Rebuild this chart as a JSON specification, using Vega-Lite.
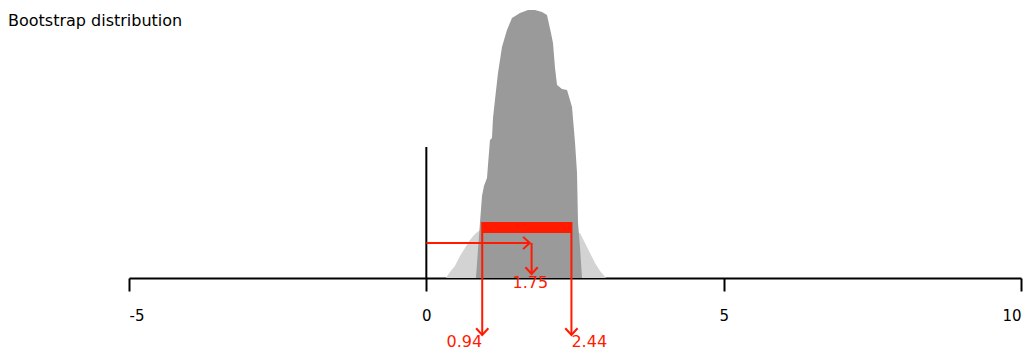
{
  "$schema": "https://vega.github.io/schema/vega-lite/v6.json",
  "width": 892,
  "height": 270,
  "autosize": {"type": "none"},
  "padding": {"left": 129, "top": 8, "right": 14, "bottom": 76},
  "title": {"text": "Bootstrap distribution", "anchor": "start", "dx": -120, "dy": 21, "offset": 0, "fontSize": 16, "font": "DejaVu Sans", "fontWeight": "normal", "color": "#000000"},
  "config": {"view": {"stroke": null}, "font": "DejaVu Sans"},
  "datasets": {
    "light": [
      {"x": 0.330, "h": 0}, {"x": 0.397, "h": 6}, {"x": 0.481, "h": 12}, {"x": 0.565, "h": 22},
      {"x": 0.650, "h": 30}, {"x": 0.734, "h": 38}, {"x": 0.818, "h": 44}, {"x": 0.902, "h": 48},
      {"x": 1.75, "h": 50}, {"x": 2.585, "h": 45}, {"x": 2.668, "h": 35}, {"x": 2.752, "h": 25},
      {"x": 2.837, "h": 15}, {"x": 2.921, "h": 7}, {"x": 3.022, "h": 0}
    ],
    "dark": [
      {"x": 0.835, "h": 0}, {"x": 0.868, "h": 28}, {"x": 0.902, "h": 55}, {"x": 0.936, "h": 82},
      {"x": 0.969, "h": 92}, {"x": 1.020, "h": 100}, {"x": 1.070, "h": 138}, {"x": 1.104, "h": 140},
      {"x": 1.121, "h": 160}, {"x": 1.154, "h": 178}, {"x": 1.205, "h": 205}, {"x": 1.272, "h": 231},
      {"x": 1.356, "h": 248}, {"x": 1.440, "h": 260}, {"x": 1.575, "h": 265}, {"x": 1.710, "h": 268},
      {"x": 1.827, "h": 268}, {"x": 1.945, "h": 266}, {"x": 2.029, "h": 263}, {"x": 2.096, "h": 245},
      {"x": 2.130, "h": 235}, {"x": 2.164, "h": 210}, {"x": 2.198, "h": 193}, {"x": 2.282, "h": 189},
      {"x": 2.366, "h": 188}, {"x": 2.450, "h": 171}, {"x": 2.501, "h": 135}, {"x": 2.534, "h": 105},
      {"x": 2.551, "h": 55}, {"x": 2.585, "h": 30}, {"x": 2.618, "h": 0}
    ],
    "zeroline": [{"x": 0, "h": 0, "h2": 131}],
    "cibar": [{"x": 0.94, "x2": 2.44, "h": 45, "h2": 56}],
    "cilines": [{"x": 0.94, "h": 56, "h2": -57}, {"x": 2.44, "h": 56, "h2": -57}],
    "harrow": [{"x": 0, "x2": 1.74, "h": 35}],
    "varrow": [{"x": 1.77, "h": 35, "h2": 4}],
    "heads": [
      {"x": 0.94, "h": -57, "dir": "down"},
      {"x": 2.44, "h": -57, "dir": "down"},
      {"x": 1.77, "h": 4, "dir": "down"},
      {"x": 1.74, "h": 35, "dir": "right"}
    ],
    "lab_left": [{"x": 0.94, "h": -64, "label": "0.94"}],
    "lab_right": [{"x": 2.44, "h": -64, "label": "2.44"}],
    "lab_mid": [{"x": 1.75, "h": -5, "label": "1.75"}]
  },
  "encoding": {
    "x": {
      "field": "x", "type": "quantitative",
      "scale": {"domain": [-5, 10], "nice": false, "zero": false},
      "axis": {
        "values": [-5, 0, 5, 10], "title": null, "grid": false,
        "domainColor": "#000000", "domainWidth": 2, "tickColor": "#000000", "tickWidth": 2, "tickSize": 13,
        "labelPadding": 17, "labelFontSize": 15, "labelColor": "#000000", "labelFont": "DejaVu Sans",
        "labelExpr": "'' + datum.value"
      }
    },
    "y": {"field": "h", "type": "quantitative", "scale": {"domain": [0, 270], "nice": false, "zero": false}, "axis": null}
  },
  "layer": [
    {"data": {"name": "light"}, "mark": {"type": "area", "color": "#d3d3d3", "interpolate": "linear"}},
    {"data": {"name": "dark"}, "mark": {"type": "area", "color": "#9a9a9a", "interpolate": "linear"}},
    {"data": {"name": "zeroline"}, "mark": {"type": "rule", "color": "#000000", "strokeWidth": 2}, "encoding": {"y2": {"field": "h2"}}},
    {"data": {"name": "cibar"}, "mark": {"type": "rect", "color": "#ff1a00"}, "encoding": {"x2": {"field": "x2"}, "y2": {"field": "h2"}}},
    {"data": {"name": "cilines"}, "mark": {"type": "rule", "color": "#ff1a00", "strokeWidth": 2}, "encoding": {"y2": {"field": "h2"}}},
    {"data": {"name": "harrow"}, "mark": {"type": "rule", "color": "#ff1a00", "strokeWidth": 2}, "encoding": {"x2": {"field": "x2"}}},
    {"data": {"name": "varrow"}, "mark": {"type": "rule", "color": "#ff1a00", "strokeWidth": 2}, "encoding": {"y2": {"field": "h2"}}},
    {"data": {"name": "heads"}, "mark": {"type": "point", "filled": false, "color": "#ff1a00", "strokeWidth": 2, "size": 150, "opacity": 1},
      "encoding": {"shape": {"field": "dir", "type": "nominal", "scale": {"domain": ["down", "right"], "range": ["M-1,-1.1L0,0L1,-1.1", "M-1.1,-1L0,0L-1.1,1"]}, "legend": null}}},
    {"data": {"name": "lab_left"}, "mark": {"type": "text", "color": "#ff1a00", "fontSize": 16, "align": "right", "baseline": "middle", "font": "DejaVu Sans"}, "encoding": {"text": {"field": "label"}}},
    {"data": {"name": "lab_right"}, "mark": {"type": "text", "color": "#ff1a00", "fontSize": 16, "align": "left", "baseline": "middle", "font": "DejaVu Sans"}, "encoding": {"text": {"field": "label"}}},
    {"data": {"name": "lab_mid"}, "mark": {"type": "text", "color": "#ff1a00", "fontSize": 16, "align": "center", "baseline": "middle", "font": "DejaVu Sans"}, "encoding": {"text": {"field": "label"}}}
  ]
}
